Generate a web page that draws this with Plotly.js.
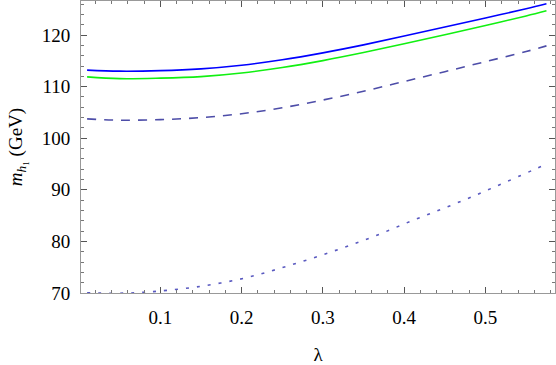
<!DOCTYPE html>
<html>
<head>
<meta charset="utf-8">
<script src="https://cdn.plot.ly/plotly-3.0.1.min.js"></script>
<style>html,body{margin:0;padding:0;background:#fff;}#chart{width:556px;height:365px;}</style>
</head>
<body>
<div id="chart"></div>
<script>
// lambda values
const lam = [0.01, 0.05, 0.10, 0.15, 0.20, 0.25, 0.30, 0.35, 0.40, 0.45, 0.50, 0.55, 0.575];
// m_h1 (GeV) for the four curves
const solidBlue  = [113.2, 113.0, 113.1, 113.45, 114.15, 115.2, 116.55, 118.1, 119.8, 121.55, 123.3, 125.1, 126.05];
const solidGreen = [111.9, 111.55, 111.65, 111.95, 112.65, 113.7, 115.05, 116.6, 118.3, 120.05, 121.85, 123.7, 124.7];
const dashed     = [103.75, 103.5, 103.6, 104.0, 104.75, 105.9, 107.4, 109.1, 111.0, 112.9, 114.85, 116.8, 117.9];
const lamDot = [0.01, 0.04, 0.07, 0.096, 0.15, 0.204, 0.256, 0.309, 0.36, 0.411, 0.461, 0.512, 0.575];
const dotted = [70.05, 69.95, 70.05, 70.33, 71.3, 72.9, 75.2, 77.9, 80.8, 84.1, 87.2, 90.6, 95.0];
const xTicks = [0.1, 0.2, 0.3, 0.4, 0.5];
const yTicks = [70, 80, 90, 100, 110, 120];

const traces = [
  {x: lam, y: solidBlue, mode: 'lines', line: {color: '#0000ff', width: 1.6, shape: 'spline', smoothing: 1}},
  {x: lam, y: solidGreen, mode: 'lines', line: {color: '#11f011', width: 1.6, shape: 'spline', smoothing: 1}},
  {x: lam, y: dashed, mode: 'lines', line: {color: '#4d4da8', width: 1.6, dash: '9px,8px', shape: 'spline', smoothing: 1}},
  {x: lamDot, y: dotted, mode: 'lines', line: {color: '#5a5ac0', width: 1.6, dash: '3px,8px', shape: 'spline', smoothing: 1}}
];

const SERIF = 'Liberation Serif';
const tickFont = {family: SERIF, size: 19, color: '#000'};
const layout = {
  width: 556, height: 365,
  margin: {l: 81, r: 1, t: 1, b: 72},
  paper_bgcolor: '#fff', plot_bgcolor: '#fff',
  showlegend: false,
  font: {family: SERIF, size: 19, color: '#000'},
  xaxis: {
    range: [0.0025, 0.5855], tickvals: xTicks, ticktext: xTicks.map(v => v.toFixed(1)),
    ticks: 'inside', ticklen: 6, tickwidth: 1, tickcolor: '#555',
    minor: {dtick: 0.02, tick0: 0, ticks: 'inside', ticklen: 3, tickcolor: '#777', showgrid: false},
    showline: true, linecolor: '#999', linewidth: 1, mirror: 'ticks',
    showgrid: false, zeroline: false, tickfont: tickFont, ticklabelstandoff: 7,
    title: {text: 'λ', font: {family: SERIF, size: 19, color: '#000'}, standoff: 20}
  },
  yaxis: {
    range: [70, 126.6], tickvals: yTicks,
    ticks: 'inside', ticklen: 6, tickwidth: 1, tickcolor: '#555',
    minor: {dtick: 2, tick0: 70, ticks: 'inside', ticklen: 3, tickcolor: '#777', showgrid: false},
    showline: true, linecolor: '#999', linewidth: 1, mirror: 'ticks',
    showgrid: false, zeroline: false, tickfont: tickFont, ticklabelstandoff: 6,
    title: {text: '<i>m</i><sub><i>h</i>₁</sub> (GeV)', font: {family: SERIF, size: 19, color: '#000'}, standoff: 14}
  }
};
Plotly.newPlot('chart', traces, layout, {displayModeBar: false, staticPlot: true});
</script>
</body>
</html>
